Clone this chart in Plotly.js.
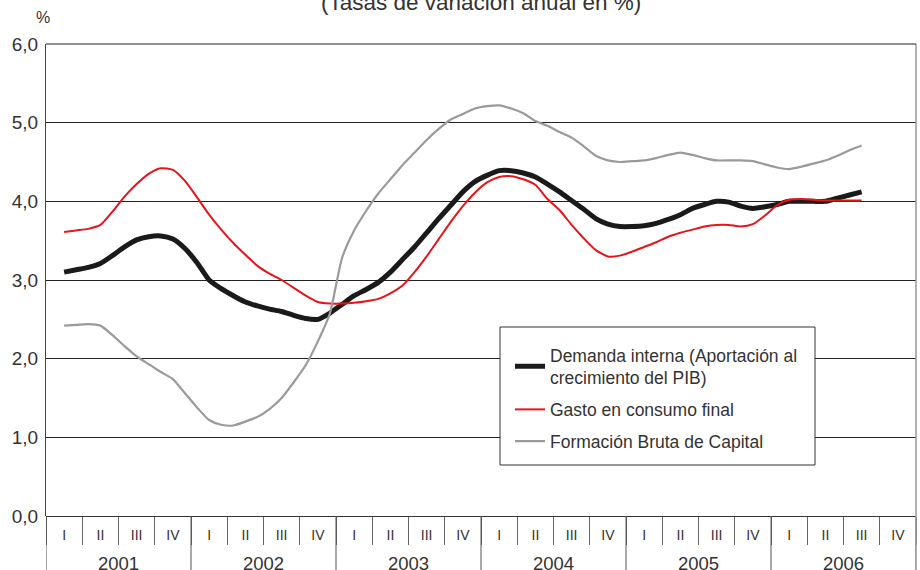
<!DOCTYPE html>
<html>
<head>
<meta charset="utf-8">
<script src="https://cdn.plot.ly/plotly-3.0.1.min.js"></script>
<style>
  html, body { margin: 0; padding: 0; background: #fff; }
  #chart { width: 920px; height: 570px; }
</style>
</head>
<body>
<div id="chart"></div>
<script>
// Years and quarter labels on the x axis
const years = ['2001', '2002', '2003', '2004', '2005', '2006'];
const quarters = ['I', 'II', 'III', 'IV'];

// Monthly observations: Feb 2001 .. Aug 2006
const firstYear = 2001, firstMonth = 2, nMonths = 67;

// Demanda interna (Aportación al crecimiento del PIB)
const demandaInterna = [
  3.10, 3.13, 3.16, 3.21, 3.31, 3.42, 3.51, 3.55, 3.56, 3.52, 3.40, 3.22,
  3.00, 2.89, 2.80, 2.72, 2.67, 2.63, 2.60, 2.55, 2.51, 2.50, 2.58, 2.69,
  2.80, 2.88, 2.97, 3.10, 3.26, 3.42, 3.60, 3.78, 3.95, 4.12, 4.25, 4.33,
  4.39, 4.39, 4.36, 4.31, 4.22, 4.12, 4.01, 3.90, 3.78, 3.71, 3.68, 3.68,
  3.69, 3.72, 3.77, 3.83, 3.91, 3.96, 4.00, 3.99, 3.94, 3.91, 3.93, 3.96,
  4.00, 4.00, 4.00, 4.00, 4.04, 4.08, 4.12
];

// Gasto en consumo final
const gastoConsumo = [
  3.61, 3.63, 3.65, 3.70, 3.87, 4.06, 4.22, 4.35, 4.42, 4.40, 4.26, 4.05,
  3.83, 3.64, 3.47, 3.32, 3.18, 3.08, 3.00, 2.90, 2.80, 2.72, 2.70, 2.70,
  2.71, 2.73, 2.76, 2.83, 2.93, 3.10, 3.30, 3.52, 3.74, 3.94, 4.11, 4.24,
  4.31, 4.32, 4.28, 4.21, 4.03, 3.89, 3.70, 3.53, 3.38, 3.30, 3.31, 3.36,
  3.42, 3.48, 3.55, 3.60, 3.64, 3.68, 3.70, 3.70, 3.68, 3.71, 3.82, 3.95,
  4.02, 4.03, 4.02, 4.01, 4.01, 4.01, 4.01
];

// Formación Bruta de Capital
const formacionBruta = [
  2.42, 2.43, 2.44, 2.42, 2.30, 2.16, 2.03, 1.93, 1.83, 1.74, 1.56, 1.38,
  1.22, 1.16, 1.15, 1.20, 1.26, 1.36, 1.50, 1.70, 1.92, 2.22, 2.58, 3.28,
  3.63, 3.88, 4.10, 4.28, 4.46, 4.62, 4.78, 4.92, 5.04, 5.11, 5.18, 5.21,
  5.22, 5.18, 5.12, 5.02, 4.96, 4.88, 4.81, 4.70, 4.58, 4.52, 4.50, 4.51,
  4.52, 4.55, 4.59, 4.62, 4.59, 4.55, 4.52, 4.52, 4.52, 4.51, 4.47, 4.43,
  4.41, 4.44, 4.48, 4.52, 4.58, 4.65, 4.71
];

const yTicks = [0, 1, 2, 3, 4, 5, 6];

// x position of each month in quarter units (centre of month)
const xMonths = [];
for (let k = 0; k < nMonths; k++) {
  const m = firstMonth - 1 + k;           // months since Jan 2001
  xMonths.push((m + 0.5) / 3);
}

const nQ = years.length * quarters.length;
const qCenters = [], qText = [];
for (let i = 0; i < nQ; i++) { qCenters.push(i + 0.5); qText.push(quarters[i % 4]); }

const FONT = 'Liberation Sans, Arial, sans-serif';
const TXT = '#333333';
const PW = 870, PH = 472;   // plot area size in px

const traces = [
  { x: xMonths, y: demandaInterna, type: 'scatter', mode: 'lines', legendgroup: 'a',
    name: 'Demanda interna (Aportación al<br>crecimiento del PIB)',
    line: { color: '#1a1a1a', width: 5, shape: 'spline', smoothing: 0.6 } },
  { x: xMonths, y: gastoConsumo, type: 'scatter', mode: 'lines', legendgroup: 'b',
    name: 'Gasto en consumo final',
    line: { color: '#e8141c', width: 2, shape: 'spline', smoothing: 0.6 } },
  { x: xMonths, y: formacionBruta, type: 'scatter', mode: 'lines', legendgroup: 'c',
    name: 'Formación Bruta de Capital',
    line: { color: '#9a9a9a', width: 2.2, shape: 'spline', smoothing: 0.6 } }
];

const shapes = [];
// year separators extending to the bottom
for (let i = 0; i <= years.length; i++) {
  shapes.push({ type: 'line', xref: 'x', yref: 'paper', x0: i * 4, x1: i * 4,
    y0: 0, y1: -60 / PH, line: { color: '#555', width: 1 } });
}
// right frame line
shapes.push({ type: 'line', xref: 'paper', yref: 'paper', x0: 1, x1: 1, y0: 1, y1: -60 / PH,
  line: { color: '#999', width: 1.5 } });
// top frame line
shapes.push({ type: 'line', xref: 'paper', yref: 'paper', x0: 0, x1: 1, y0: 1, y1: 1,
  line: { color: '#222', width: 1 } });
// legend box
shapes.push({ type: 'rect', xref: 'paper', yref: 'paper', layer: 'above',
  x0: (500 - 46) / PW, x1: (815 - 46) / PW, y0: (516 - 465) / PH, y1: (516 - 327) / PH,
  fillcolor: '#fff', line: { color: '#333', width: 1 } });

const annotations = [
  { text: '(Tasas de variación anual en %)', xref: 'paper', yref: 'paper',
    x: 0.5, y: 1 + 41 / PH, xanchor: 'center', yanchor: 'middle', showarrow: false,
    font: { family: FONT, size: 22.5, color: TXT } },
  { text: '%', xref: 'paper', yref: 'paper', x: -3 / PW, y: 1 + 27 / PH,
    xanchor: 'center', yanchor: 'middle', showarrow: false,
    font: { family: FONT, size: 16, color: TXT } }
];
years.forEach((yr, i) => {
  annotations.push({ text: yr, xref: 'x', yref: 'paper', x: i * 4 + 2, y: -47 / PH,
    xanchor: 'center', yanchor: 'middle', showarrow: false,
    font: { family: FONT, size: 18.5, color: TXT } });
});

const layout = {
  width: 920, height: 570,
  margin: { l: 46, r: 4, t: 44, b: 54 },
  paper_bgcolor: '#fff', plot_bgcolor: '#fff',
  showlegend: true,
  legend: { x: (510 - 46) / PW, y: (516 - 337) / PH, xanchor: 'left', yanchor: 'top',
    bgcolor: 'rgba(0,0,0,0)', borderwidth: 0, traceorder: 'grouped',
    font: { family: FONT, size: 17.5, color: TXT }, tracegroupgap: 6 },
  xaxis: { range: [0, nQ], showgrid: false, zeroline: false,
    tickmode: 'array', tickvals: qCenters, ticktext: qText,
    ticks: 'outside', ticklen: 6, tickcolor: 'rgba(0,0,0,0)',
    tickfont: { family: FONT, size: 14, color: TXT },
    showline: false,
    minor: { tickmode: 'linear', tick0: 0, dtick: 1, ticks: 'outside', ticklen: 28,
      tickcolor: '#666', tickwidth: 1, showgrid: false } },
  yaxis: { range: [0, 6], tickmode: 'array', tickvals: yTicks, tickformat: '.1f',
    showgrid: true, gridcolor: '#222', gridwidth: 1, zeroline: true, zerolinecolor: '#333',
    zerolinewidth: 1, showline: true, linecolor: '#444', linewidth: 1,
    ticks: '', ticklabelstandoff: 3, tickfont: { family: FONT, size: 19, color: TXT } },
  separators: ',.',
  shapes: shapes,
  annotations: annotations
};

Plotly.newPlot('chart', traces, layout, { displayModeBar: false, staticPlot: true });
</script>
</body>
</html>
